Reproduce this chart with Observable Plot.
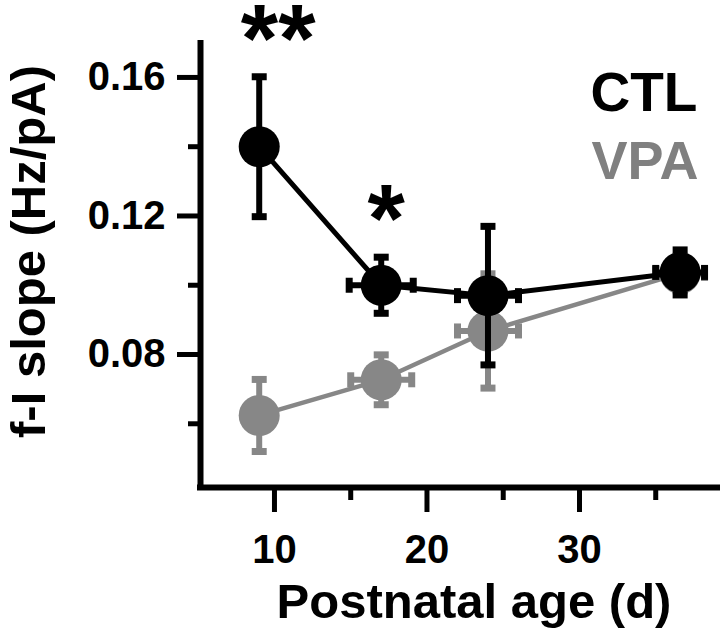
<!DOCTYPE html>
<html>
<head>
<meta charset="utf-8">
<script src="https://cdn.jsdelivr.net/npm/d3@7"></script>
<script src="https://cdn.jsdelivr.net/npm/@observablehq/plot@0.6"></script>
<style>
  html, body { margin: 0; padding: 0; background: #fff; }
  #chart { width: 720px; height: 631px; }
</style>
</head>
<body>
<div id="chart"></div>
<script>
// ---- data ----
const ages = [9, 17, 24, 36.6];
const ctlMean = [0.140, 0.100, 0.097, 0.1037];
const ctlErr = [0.0202, 0.0081, 0.020, 0.0065];
const ctlAgeErr = [0, 2.1, 2.0, 1.6];
const vpaMean = [0.0624, 0.0727, 0.0868, 0.1034];
const vpaErr = [0.0104, 0.0072, 0.0165, 0.005];
const vpaAgeErr = [0, 2.0, 2.0, 1.6];
const seriesNames = ["CTL", "VPA"];
const xMajorTicks = [10, 20, 30];
const xMinorTicks = [15, 25, 35];
const yMajorTicks = [0.08, 0.12, 0.16];
const yMinorTicks = [0.06, 0.10, 0.14];
const sigAges = [9, 17];
const sigLabels = ["**", "*"];
const xLabel = "Postnatal age (d)";
const yLabel = "f-I slope (Hz/pA)";

const xDomain = [5.15, 39.05];
const yDomain = [0.0416, 0.1698];

const BLACK = "#000000";
const GRAY = "#878787";

function rows(mean, err, ageErr) {
  return ages.map((a, i) => ({age: a, mean: mean[i], err: err[i], ageErr: ageErr[i]}));
}
const ctl = rows(ctlMean, ctlErr, ctlAgeErr);
const vpa = rows(vpaMean, vpaErr, vpaAgeErr);

const hCap = {draw(ctx) { ctx.moveTo(-7.5, 0); ctx.lineTo(7.5, 0); }};
const vCap = {draw(ctx) { ctx.moveTo(0, -7.5); ctx.lineTo(0, 7.5); }};

function seriesMarks(data, color, lineW) {
  const vCaps = data.flatMap(d => [{x: d.age, y: d.mean + d.err}, {x: d.age, y: d.mean - d.err}]);
  const withX = data.filter(d => d.ageErr > 0);
  const hCaps = withX.flatMap(d => [{x: d.age - d.ageErr, y: d.mean}, {x: d.age + d.ageErr, y: d.mean}]);
  return [
    Plot.line(data, {x: "age", y: "mean", stroke: color, strokeWidth: lineW}),
    Plot.ruleX(data, {x: "age", y1: d => d.mean - d.err, y2: d => d.mean + d.err, stroke: color, strokeWidth: 6}),
    Plot.ruleY(withX, {y: "mean", x1: d => d.age - d.ageErr, x2: d => d.age + d.ageErr, stroke: color, strokeWidth: 6}),
    Plot.dot(vCaps, {x: "x", y: "y", symbol: hCap, stroke: color, strokeWidth: 7}),
    Plot.dot(hCaps, {x: "x", y: "y", symbol: vCap, stroke: color, strokeWidth: 7}),
    Plot.dot(data, {x: "age", y: "mean", r: 20.5, fill: color})
  ];
}

const sig = sigAges.map((a, i) => {
  const d = ctl.find(r => r.age === a);
  return {age: a, top: d.mean + d.err, label: sigLabels[i]};
});

const chart = Plot.plot({
  width: 720,
  height: 631,
  marginLeft: 200,
  marginRight: 3,
  marginTop: 43,
  marginBottom: 144,
  style: {fontFamily: "'Liberation Sans', Arial, sans-serif", fontWeight: "bold", background: "#fff", overflow: "visible"},
  x: {domain: xDomain},
  y: {domain: yDomain},
  marks: [
    // axes
    Plot.axisX({ticks: xMajorTicks, tickSize: 25, tickPadding: 22, strokeWidth: 5, fontSize: 40, fontWeight: "bold", label: null, fill: BLACK}),
    Plot.axisX({ticks: xMinorTicks, tickSize: 13, strokeWidth: 5, tickFormat: () => "", label: null}),
    Plot.axisY({ticks: yMajorTicks, tickSize: 23, tickPadding: 12, strokeWidth: 5, fontSize: 40, fontWeight: "bold", tickFormat: d => d.toFixed(2), label: null, fill: BLACK}),
    Plot.axisY({ticks: yMinorTicks, tickSize: 12, strokeWidth: 5, tickFormat: () => "", label: null}),
    Plot.ruleX([xDomain[0]], {stroke: BLACK, strokeWidth: 6, strokeLinecap: "square"}),
    Plot.ruleY([yDomain[0]], {stroke: BLACK, strokeWidth: 6, strokeLinecap: "square"}),
    // axis titles
    Plot.text([xLabel], {text: d => d, frameAnchor: "bottom", textAnchor: "middle", lineAnchor: "bottom", dx: 15, dy: 130, fontSize: 49, fontWeight: "bold", fill: BLACK}),
    Plot.text([yLabel], {text: d => d, frameAnchor: "left", textAnchor: "middle", lineAnchor: "middle", rotate: -90, dx: -171, dy: -14, fontSize: 49, fontWeight: "bold", fill: BLACK}),
    // series
    ...seriesMarks(vpa, GRAY, 4.5),
    ...seriesMarks(ctl, BLACK, 5),
    // significance
    Plot.text(sig.filter(d => d.label === "**"), {x: "age", y: "top", text: "label", lineAnchor: "bottom", dx: 19, dy: -6, fontSize: 96, fontWeight: "bold", fill: BLACK}),
    Plot.text(sig.filter(d => d.label === "*"), {x: "age", y: "top", text: "label", lineAnchor: "bottom", dx: 5, dy: -6, fontSize: 96, fontWeight: "bold", fill: BLACK}),
    // legend
    Plot.text([seriesNames[0]], {text: d => d, frameAnchor: "top-left", textAnchor: "start", lineAnchor: "bottom", dx: 390, dy: 67, fontSize: 55, fontWeight: "bold", fill: BLACK}),
    Plot.text([seriesNames[1]], {text: d => d, frameAnchor: "top-left", textAnchor: "start", lineAnchor: "bottom", dx: 391, dy: 135, fontSize: 54, fontWeight: "bold", fill: "#808080"})
  ]
});
document.getElementById("chart").appendChild(chart);
</script>
</body>
</html>
